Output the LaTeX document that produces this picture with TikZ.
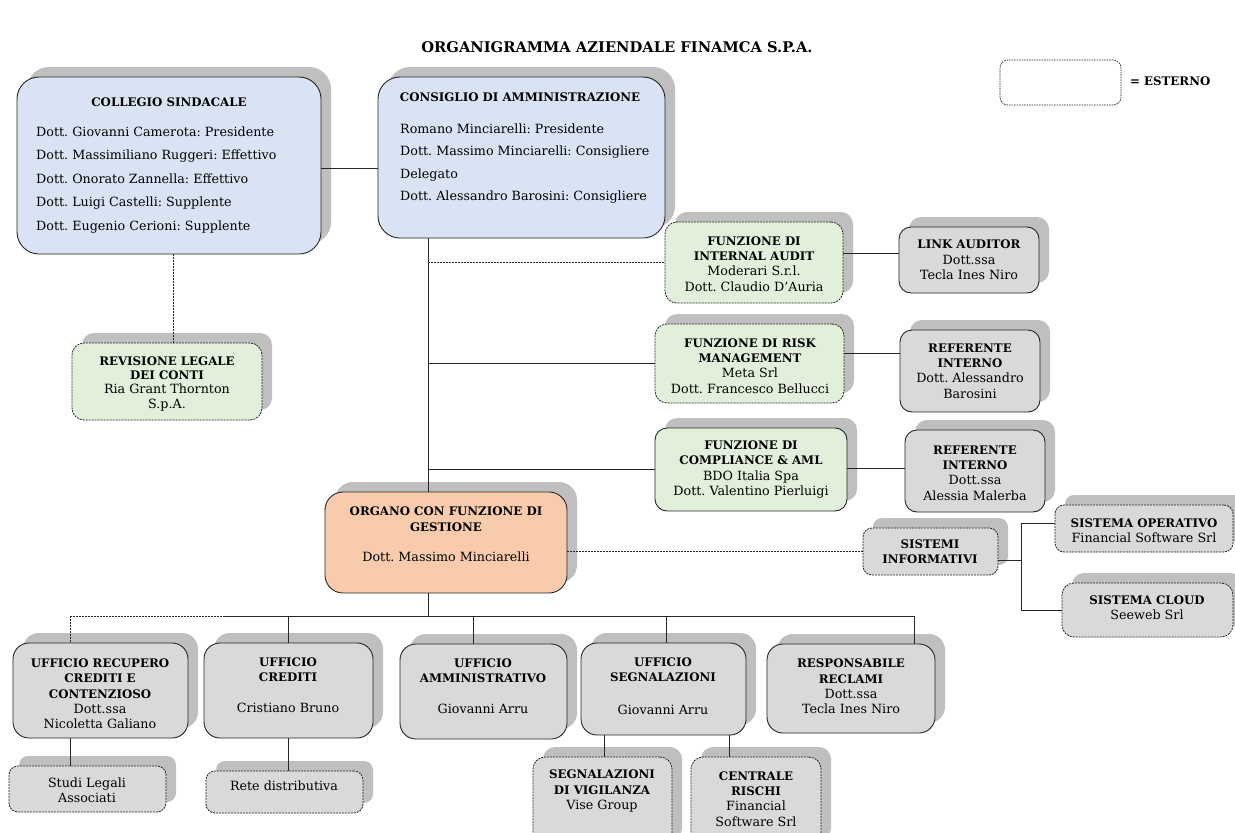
\documentclass[tikz,border=0pt]{standalone}
\usepackage{fontspec}
\setmainfont{DejaVu Serif}
\frenchspacing
\definecolor{bluef}{HTML}{DAE3F3}
\definecolor{greenf}{HTML}{E2EFDA}
\definecolor{peachf}{HTML}{F8CBAD}
\definecolor{grayf}{HTML}{D9D9D9}
\definecolor{shad}{HTML}{BFBFBF}
\definecolor{edge}{HTML}{262626}
\newcommand\hd[1]{{\fontsize{11.8}{15.3}\selectfont\bfseries #1}}
\tikzset{
  solidbox/.style={draw=edge, line width=0.9pt, inner sep=0pt},
  dashbox/.style={draw=edge, line width=0.8pt, dash pattern=on 2pt off 1pt, inner sep=0pt},
  bluebox/.style={solidbox, fill=bluef},
  greenbox/.style={solidbox, fill=greenf},
  greendash/.style={dashbox, fill=greenf},
  peachbox/.style={solidbox, fill=peachf},
  graybox/.style={solidbox, fill=grayf},
  graydash/.style={dashbox, fill=grayf},
  conn/.style={draw=black!85, line width=0.9pt},
  dconn/.style={conn, dash pattern=on 2pt off 1pt},
  txt/.style={inner sep=0pt, align=center, font=\fontsize{12.7}{15.3}\selectfont},
}
\newcommand\obox[7]{%
  \fill[shad, rounded corners=#7] (#3+10,#4-10) rectangle (#5+10,#6-10);
  \node[#2, rounded corners=#7, minimum width={#5-#3}, minimum height={#6-#4}] (#1) at ({(#3+#5)/2},{(#4+#6)/2}) {};
}
\begin{document}
\begin{tikzpicture}[x=1pt,y=-1pt]
\fill[white] (0,0) rectangle (1235,833);
\useasboundingbox (0,0) rectangle (1235,833);

% title and legend
\node[inner sep=0pt, font=\bfseries\fontsize{14.7}{16}\selectfont] (title) at (617,47) {ORGANIGRAMMA AZIENDALE FINAMCA S.P.A.};
\node[draw=edge, line width=0.7pt, dash pattern=on 1.5pt off 1pt, rounded corners=8, minimum width=121, minimum height=45, inner sep=0pt] (leg) at (1060.5,82.5) {};
\node[txt, anchor=west] (legt) at (1130,81) {\hd{= ESTERNO}};

% coordinates for connector lines
\coordinate (tx) at (428,0);
\coordinate (cx) at (173,0);
\coordinate (bx) at (1021,0);
\coordinate (by) at (0,616);
\coordinate (d1) at (70,616);
\coordinate (d1b) at (224,616);
\coordinate (d2) at (288,616);
\coordinate (d3) at (473,616);
\coordinate (d4) at (666,616);
\coordinate (d5) at (914,616);
\coordinate (s1) at (604,0);
\coordinate (s2) at (729,0);

% boxes
\obox{coll}{bluebox}{17}{77}{321}{254}{22}
\obox{cons}{bluebox}{378}{77}{665}{238}{22}
\obox{audit}{greendash}{665}{222}{843}{303}{12}
\obox{link}{graybox}{899}{227}{1039}{293}{12}
\obox{risk}{greendash}{655}{324}{844}{403}{12}
\obox{ref1}{graybox}{900}{330}{1040}{412}{12}
\obox{comp}{greenbox}{655}{428}{847}{511}{12}
\obox{ref2}{graybox}{905}{430}{1045}{512}{12}
\obox{rev}{greendash}{72}{343}{262}{420}{12}
\obox{org}{peachbox}{325}{492}{567}{593}{18}
\obox{sist}{graydash}{863}{528}{998}{575}{9}
\obox{sop}{graydash}{1055}{505}{1233}{552}{9}
\obox{scl}{graydash}{1062}{583}{1233}{637}{12}
\obox{rec}{graybox}{13}{643}{188}{738}{16}
\obox{cred}{graybox}{204}{643}{373}{738}{16}
\obox{amm}{graybox}{400}{644}{567}{739}{16}
\obox{seg}{graybox}{581}{643}{746}{735}{16}
\obox{recl}{graybox}{767}{644}{935}{733}{16}
\obox{stud}{graydash}{9}{766}{166}{812}{9}
\obox{rete}{graydash}{206}{771}{363}{813}{9}
\obox{vig}{graydash}{533}{757}{672}{850}{12}
\obox{cen}{graydash}{691}{757}{821}{850}{12}

% connectors
\draw[conn] (coll.east |- 0,168) -- (cons.west |- 0,168);
\draw[dconn] (coll.south -| cx) -- (rev.north -| cx);
\draw[conn] (cons.south -| tx) -- (org.north -| tx);
\draw[dconn] (audit.west -| tx) -- (audit.west);
\draw[conn] (risk.west -| tx) -- (risk.west);
\draw[conn] (comp.west -| tx) -- (comp.west);
\draw[conn] ([yshift=9pt]audit.east) -- ([yshift=9pt]audit.east -| link.west);
\draw[conn] ([yshift=10pt]risk.east) -- ([yshift=10pt]risk.east -| ref1.west);
\draw[conn] ([yshift=1pt]comp.east) -- ([yshift=1pt]comp.east -| ref2.west);
\draw[dconn] (sist.west -| org.east) -- (sist.west);
\draw[conn] ([yshift=-9pt]sist.east) -- ([yshift=-9pt]sist.east -| bx);
\draw[conn] ([yshift=5pt]sop.west -| bx) -- ([yshift=5pt]sop.west);
\draw[conn] (scl.west -| bx) -- (scl.west);
\draw[conn] ([yshift=5pt]sop.west -| bx) -- (scl.west -| bx);
\draw[conn] (org.south -| tx) -- (tx |- by);
\draw[dconn] (d1) -- (d1b);
\draw[conn] (d1b) -- (d5);
\draw[dconn] (d1) -- (rec.north -| d1);
\draw[conn] (d2) -- (cred.north -| d2);
\draw[conn] (d3) -- (amm.north -| d3);
\draw[conn] (d4) -- (seg.north -| d4);
\draw[conn] (d5) -- (recl.north -| d5);
\draw[conn] (rec.south -| d1) -- (stud.north -| d1);
\draw[conn] (cred.south -| d2) -- (rete.north -| d2);
\draw[conn] (seg.south -| s1) -- (vig.north -| s1);
\draw[conn] (seg.south -| s2) -- (cen.north -| s2);

% texts
\node[txt] (collt) at (169,102) {\hd{COLLEGIO SINDACALE}};
\node[txt, anchor=west, align=left, font=\fontsize{12.7}{23.5}\selectfont] (collb) at (36,180) {Dott. Giovanni Camerota: Presidente\\Dott. Massimiliano Ruggeri: Effettivo\\Dott. Onorato Zannella: Effettivo\\Dott. Luigi Castelli: Supplente\\Dott. Eugenio Cerioni: Supplente};
\node[txt] (const) at (520,97) {\hd{CONSIGLIO DI AMMINISTRAZIONE}};
\node[txt, anchor=west, align=left, font=\fontsize{12.7}{22.3}\selectfont] (consb) at (400,163.5) {Romano Minciarelli: Presidente\\Dott. Massimo Minciarelli: Consigliere\\Delegato\\Dott. Alessandro Barosini: Consigliere};
\node[txt] (auditt) at (754,264) {\hd{FUNZIONE DI}\\\hd{INTERNAL AUDIT}\\Moderari S.r.l.\\Dott. Claudio D’Auria};
\node[txt] (linkt) at (969,260) {\hd{LINK AUDITOR}\\Dott.ssa\\Tecla Ines Niro};
\node[txt] (riskt) at (750,366) {\hd{FUNZIONE DI RISK}\\\hd{MANAGEMENT}\\Meta Srl\\Dott. Francesco Bellucci};
\node[txt] (ref1t) at (970,371) {\hd{REFERENTE}\\\hd{INTERNO}\\Dott. Alessandro\\Barosini};
\node[txt] (compt) at (751,469.5) {\hd{FUNZIONE DI}\\\hd{COMPLIANCE \& AML}\\BDO Italia Spa\\Dott. Valentino Pierluigi};
\node[txt] (ref2t) at (975,473) {\hd{REFERENTE}\\\hd{INTERNO}\\Dott.ssa\\Alessia Malerba};
\node[txt, font=\fontsize{12.7}{14.3}\selectfont] (revt) at (167,383.5) {\hd{REVISIONE LEGALE}\\\hd{DEI CONTI}\\Ria Grant Thornton\\S.p.A.};
\node[txt] (orgt) at (446,534.5) {\hd{ORGANO CON FUNZIONE DI}\\\hd{GESTIONE}\\[15pt]Dott. Massimo Minciarelli};
\node[txt] (sistt) at (930,552) {\hd{SISTEMI}\\\hd{INFORMATIVI}};
\node[txt] (sopt) at (1144,530.5) {\hd{SISTEMA OPERATIVO}\\Financial Software Srl};
\node[txt] (sclt) at (1147,608) {\hd{SISTEMA CLOUD}\\Seeweb Srl};
\begin{scope}
\clip (13,643) rectangle (188,727);
\node[txt] (rect) at (100,694) {\hd{UFFICIO RECUPERO}\\\hd{CREDITI E}\\\hd{CONTENZIOSO}\\Dott.ssa\\Nicoletta Galiano};
\end{scope}
\node[txt] (credt) at (288,685) {\hd{UFFICIO}\\\hd{CREDITI}\\[15pt]Cristiano Bruno};
\node[txt] (ammt) at (483,686) {\hd{UFFICIO}\\\hd{AMMINISTRATIVO}\\[15pt]Giovanni Arru};
\node[txt] (segt) at (663,686) {\hd{UFFICIO}\\\hd{SEGNALAZIONI}\\[17pt]Giovanni Arru};
\node[txt] (reclt) at (851,686.5) {\hd{RESPONSABILE}\\\hd{RECLAMI}\\Dott.ssa\\Tecla Ines Niro};
\node[txt] (studt) at (87,790) {Studi Legali\\Associati};
\node[txt] (retet) at (284,786) {Rete distributiva};
\node[txt] (vigt) at (602,791) {\hd{SEGNALAZIONI}\\\hd{DI VIGILANZA}\\Vise Group};
\node[txt] (cent) at (756,799) {\hd{CENTRALE}\\\hd{RISCHI}\\Financial\\Software Srl};
\end{tikzpicture}
\end{document}
